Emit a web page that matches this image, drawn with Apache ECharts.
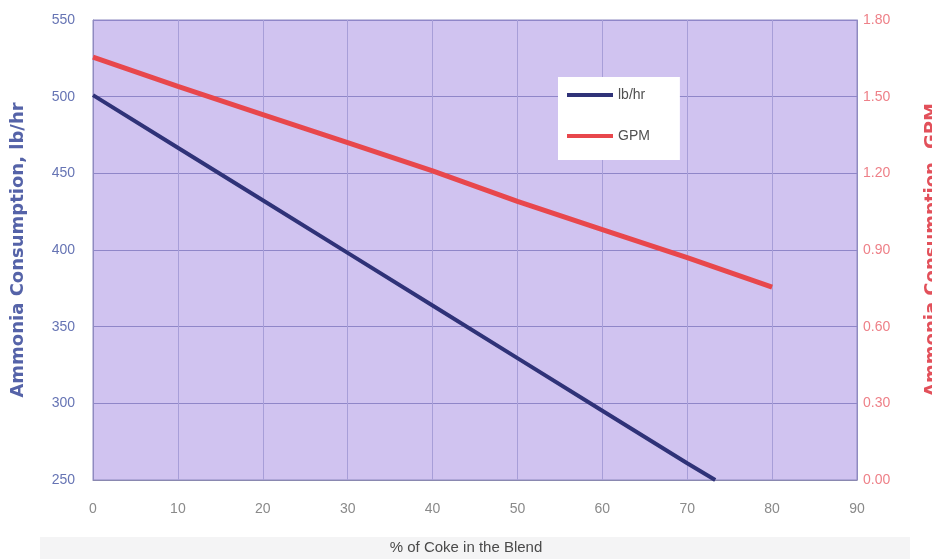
<!DOCTYPE html>
<html>
<head>
<meta charset="utf-8">
<script src="https://cdn.jsdelivr.net/npm/echarts@6/dist/echarts.min.js"></script>
<style>
  html, body { margin: 0; padding: 0; background: #ffffff; }
  #chart { width: 932px; height: 559px; }
</style>
</head>
<body>
<div id="chart"></div>
<script>
// % of coke in the blend (x) and ammonia consumption series
const cokePct = [0, 10, 20, 30, 40, 50, 60, 70, 73.3];
const lbPerHr = [501, 466.7, 432.4, 398.1, 363.8, 329.5, 295.2, 260.9, 250];

const cokePctGpm = [0, 10, 20, 30, 40, 50, 60, 70, 80];
const gpm = [1.655, 1.54, 1.43, 1.32, 1.21, 1.09, 0.98, 0.87, 0.755];

const seriesNames = ['lb/hr', 'GPM'];
const xTitle = '% of Coke in the Blend';
const leftTitle = 'Ammonia Consumption, lb/hr';
const rightTitle = 'Ammonia Consumption, GPM';

const pairs = (xs, ys) => xs.map((x, i) => [x, ys[i]]);

const chart = echarts.init(document.getElementById('chart'), null, { renderer: 'canvas' });

chart.setOption({
  backgroundColor: '#ffffff',
  animation: false,
  textStyle: { fontFamily: 'Liberation Sans, Arial, sans-serif' },
  graphic: [
    {
      type: 'rect',
      left: 40, top: 537,
      shape: { width: 870, height: 22 },
      style: { fill: '#f4f4f5' },
      z: -10
    },
    {
      type: 'text',
      left: 'center',
      top: 540,
      style: {
        text: xTitle,
        fill: '#4a4a4a',
        font: '15px "Liberation Sans", Arial, sans-serif'
      }
    }
  ],
  grid: {
    left: 93, right: 75, top: 20, bottom: 79,
    outerBoundsMode: 'none',
    containLabel: false,
    show: true,
    backgroundColor: '#d0c3f0',
    borderColor: '#8f8ac0',
    borderWidth: 1
  },
  legend: {
    orient: 'vertical',
    left: 558, top: 77,
    width: 124,
    backgroundColor: '#ffffff',
    padding: [11, 30, 17, 9],
    itemGap: 27,
    itemWidth: 46,
    itemHeight: 4,
    icon: 'rect',
    textStyle: { color: '#505050', fontSize: 14, fontFamily: 'Liberation Sans, Arial, sans-serif' },
    data: seriesNames
  },
  xAxis: {
    type: 'value',
    min: 0, max: 90, interval: 10,
    axisLine: { show: true, lineStyle: { color: '#8a88b0', width: 1 } },
    axisTick: { show: false },
    axisLabel: { color: '#8a8a8a', fontSize: 14, margin: 22 },
    splitLine: { show: true, lineStyle: { color: '#a79ed8', width: 1 } }
  },
  yAxis: [
    {
      type: 'value',
      min: 250, max: 550, interval: 50,
      position: 'left',
      name: leftTitle,
      nameLocation: 'middle',
      nameGap: 66,
      nameTextStyle: {
        color: '#5563a8', fontSize: 18, fontWeight: 'bold',
        fontFamily: 'DejaVu Sans, sans-serif'
      },
      axisLine: { show: true, lineStyle: { color: '#8f8ac0' } },
      axisTick: { show: false },
      axisLabel: { color: '#6674b4', fontSize: 14, margin: 18 },
      splitLine: { show: true, lineStyle: { color: '#8f86c8', width: 1 } }
    },
    {
      type: 'value',
      min: 0, max: 1.8, interval: 0.3,
      position: 'right',
      name: rightTitle,
      nameLocation: 'middle',
      nameGap: 66,
      nameRotate: 90,
      nameTextStyle: {
        color: '#e2505a', fontSize: 18, fontWeight: 'bold',
        fontFamily: 'DejaVu Sans, sans-serif'
      },
      axisLine: { show: true, lineStyle: { color: '#8f8ac0' } },
      axisTick: { show: false },
      axisLabel: {
        color: '#ee8088', fontSize: 14, margin: 6,
        formatter: v => v.toFixed(2)
      },
      splitLine: { show: false }
    }
  ],
  series: [
    {
      name: seriesNames[0],
      type: 'line',
      yAxisIndex: 0,
      data: pairs(cokePct, lbPerHr),
      showSymbol: false,
      symbol: 'none',
      lineStyle: { color: '#2f3278', width: 4 },
      itemStyle: { color: '#2f3278' },
      z: 3
    },
    {
      name: seriesNames[1],
      type: 'line',
      yAxisIndex: 1,
      data: pairs(cokePctGpm, gpm),
      showSymbol: false,
      symbol: 'none',
      lineStyle: { color: '#e8474c', width: 5 },
      itemStyle: { color: '#e8474c' },
      z: 3
    }
  ]
});
</script>
</body>
</html>
